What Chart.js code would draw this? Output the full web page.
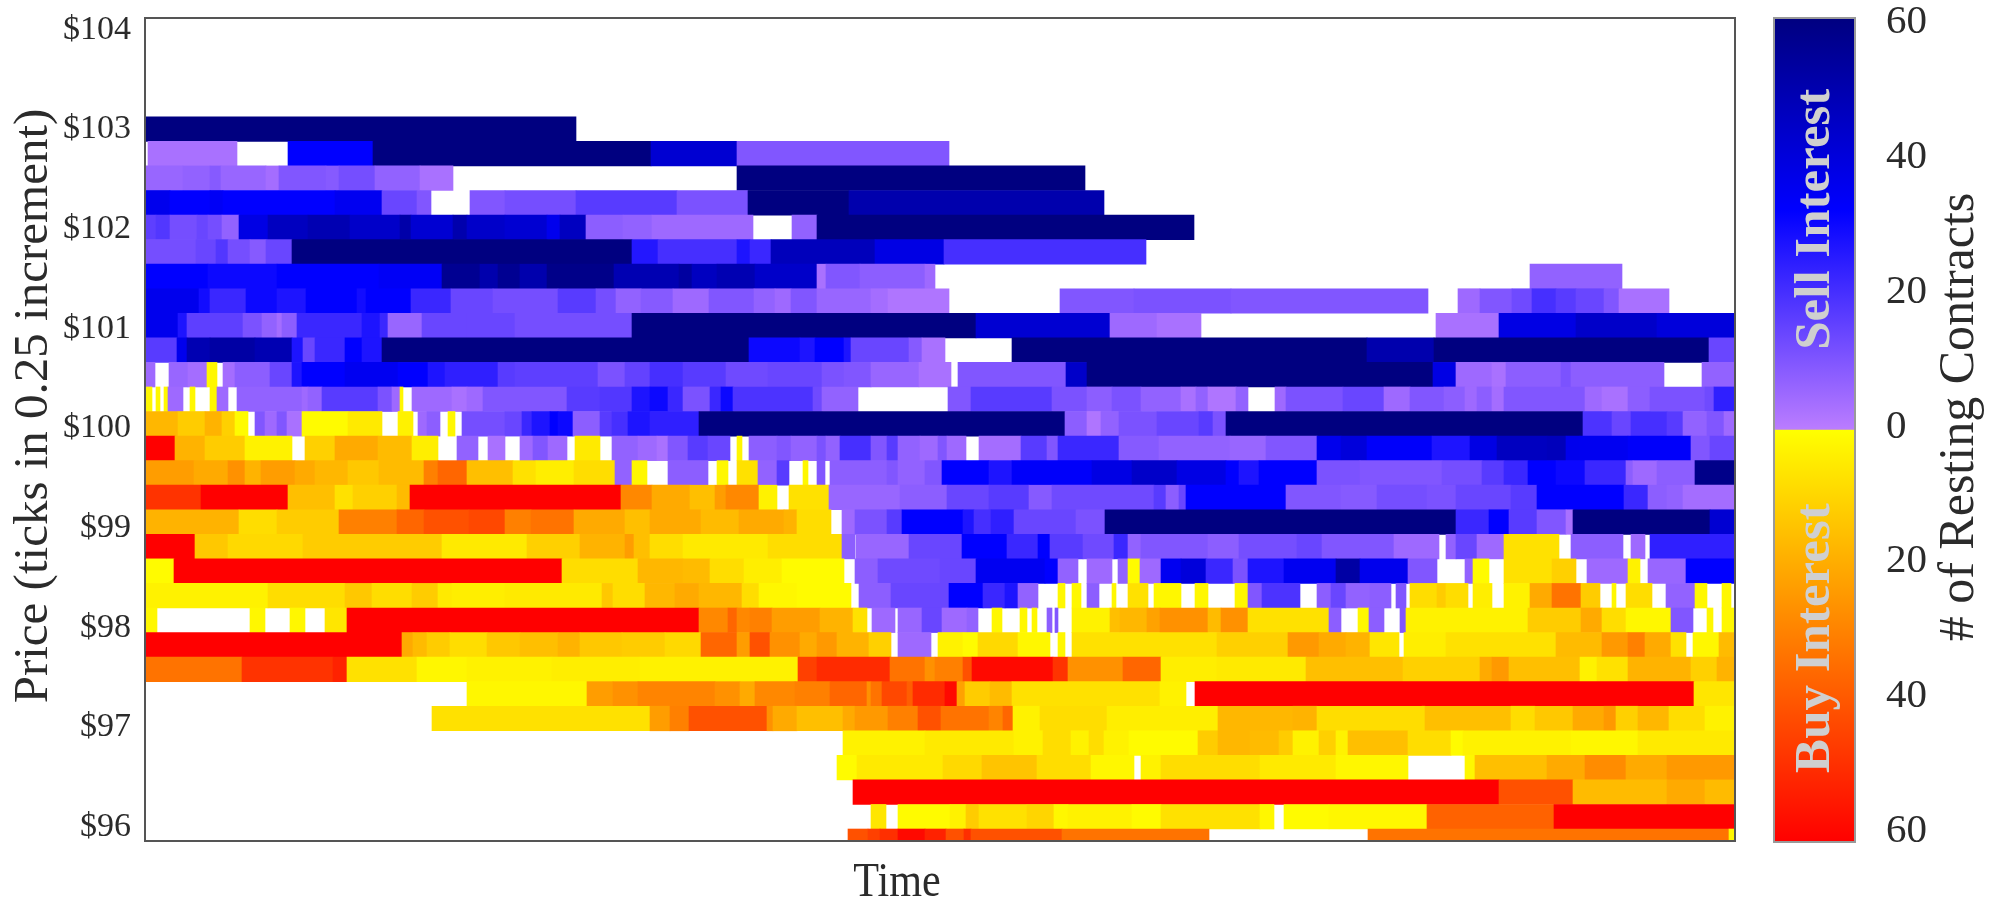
<!DOCTYPE html>
<html>
<head>
<meta charset="utf-8">
<style>
  html, body { margin: 0; padding: 0; background: #fff; width: 2001px; height: 903px; overflow: hidden; }
  canvas { position: absolute; top: 0; filter: blur(0.6px); }
  #book { left: 0; }
  #scale { left: 1760px; }
</style>
<script src="https://cdn.jsdelivr.net/npm/chart.js@4/dist/chart.umd.js"></script>
</head>
<body>
<canvas id="book" width="1760" height="903"></canvas>
<canvas id="scale" width="241" height="903"></canvas>
<script>
// resting contracts per price level: [time, contracts] runs, each lasts until the next time.
// positive = sell interest, negative = buy interest, 0 = nothing resting
var p10300 = [[0,60],[431,0]];
var p10275 = [[3,3],[92,0],[143,32],[228,60],[506,42],[592,10],[804,0]];
var p10250 = [[0,6],[38,7],[65,9],[76,6],[121,4],[134,10],[181,9],[194,12],[230,7],[275,3],[308,0],[592,60],[940,0]];
var p10225 = [[0,36],[25,32],[65,34],[78,32],[190,35],[237,14],[272,10],[286,0],[325,10],[360,12],[431,17],[532,11],[603,60],[704,50],[959,0]];
var p10200 = [[0,16],[11,18],[25,12],[52,14],[63,12],[77,7],[94,38],[123,46],[163,49],[205,44],[255,51],[266,42],[308,50],[322,44],[360,42],[402,36],[415,46],[441,8],[478,7],[507,5],[608,0],[647,7],[672,60],[1049,0]];
var p10175 = [[0,12],[51,14],[71,18],[83,12],[105,9],[121,14],[147,60],[487,26],[513,20],[592,27],[605,22],[626,47],[730,38],[799,20],[1001,0]];
var p10150 = [[0,32],[63,30],[132,32],[234,34],[297,56],[335,50],[353,56],[375,50],[402,58],[469,49],[534,53],[547,46],[572,49],[610,44],[672,3],[681,10],[715,8],[780,5],[790,0],[1385,7],[1477,0]];
var p10125 = [[0,36],[54,29],[65,22],[101,30],[132,27],[161,32],[212,29],[221,32],[266,22],[306,14],[348,12],[413,17],[451,12],[471,7],[496,9],[528,5],[564,10],[609,7],[630,5],[646,10],[672,6],[726,4],[743,2],[804,0],[915,10],[989,11],[1086,10],[1283,0],[1313,5],[1335,10],[1367,13],[1387,20],[1411,17],[1431,14],[1459,10],[1474,3],[1524,0]];
var p10100 = [[0,36],[33,27],[42,16],[98,11],[117,7],[132,4],[137,8],[152,22],[217,27],[235,22],[243,6],[277,14],[322,14],[370,12],[487,60],[831,42],[965,5],[1012,3],[1056,0],[1291,3],[1354,38],[1431,44],[1512,40],[1590,0]];
var p10075 = [[0,17],[32,36],[42,49],[65,52],[110,49],[147,27],[158,14],[170,22],[200,32],[217,27],[237,60],[604,30],[655,27],[670,32],[699,27],[706,14],[764,9],[777,3],[800,0],[867,60],[1222,50],[1289,60],[1564,14],[1590,0]];
var p10050 = [[0,5],[10,0],[24,6],[43,4],[62,-2],[72,0],[78,4],[90,8],[125,14],[147,27],[157,32],[200,35],[253,32],[283,27],[300,24],[353,17],[370,16],[453,11],[480,15],[505,20],[538,17],[581,13],[623,14],[677,11],[699,10],[726,6],[774,3],[806,0],[813,10],[921,44],[942,60],[1288,38],[1311,5],[1347,3],[1361,8],[1416,11],[1426,8],[1519,0],[1557,7],[1590,0]];
var p10025 = [[0,-2],[7,0],[11,-2],[15,0],[19,-2],[23,5],[38,0],[45,-2],[50,0],[65,-2],[72,5],[83,0],[92,7],[157,5],[163,7],[177,17],[233,11],[247,5],[255,-2],[258,0],[267,5],[307,3],[322,5],[338,10],[422,17],[455,18],[487,27],[505,30],[523,22],[538,11],[565,22],[576,30],[588,19],[668,13],[677,7],[713,0],[803,10],[826,17],[907,11],[942,8],[967,11],[996,7],[1036,3],[1051,7],[1063,2],[1091,7],[1103,0],[1130,5],[1141,11],[1198,14],[1239,5],[1265,10],[1299,8],[1320,5],[1332,8],[1347,4],[1359,10],[1440,5],[1457,3],[1483,8],[1505,11],[1560,13],[1569,24],[1590,0]];
var p10000 = [[0,-17],[33,-12],[60,-18],[77,-11],[90,-1],[103,0],[110,10],[120,5],[132,10],[142,3],[157,-1],[203,-5],[237,0],[253,-3],[268,0],[273,5],[282,8],[295,0],[303,-2],[310,0],[317,12],[360,14],[377,22],[387,27],[405,32],[413,30],[428,8],[455,17],[467,20],[483,27],[505,24],[554,60],[920,8],[942,2],[956,7],[974,11],[1012,14],[1054,17],[1068,11],[1081,60],[1438,19],[1467,14],[1486,20],[1522,17],[1538,7],[1562,10],[1579,5],[1590,0]];
var p9975 = [[0,-60],[30,-18],[60,-12],[100,-3],[147,0],[160,-11],[190,-20],[233,-16],[267,-4],[293,0],[312,7],[333,0],[343,3],[360,0],[375,5],[388,10],[403,5],[422,0],[430,-5],[455,0],[467,7],[493,5],[512,3],[523,10],[543,17],[563,14],[585,0],[592,-2],[597,0],[604,8],[632,10],[646,7],[672,11],[681,7],[695,20],[726,10],[742,17],[753,7],[775,5],[793,10],[802,5],[821,0],[834,4],[876,17],[902,10],[913,22],[974,9],[1014,7],[1085,6],[1121,10],[1172,36],[1196,40],[1222,33],[1287,27],[1325,38],[1352,46],[1402,47],[1421,36],[1435,35],[1483,33],[1546,10],[1565,14],[1590,0]];
var p9950 = [[0,-23],[49,-20],[83,-26],[100,-18],[116,-23],[150,-20],[170,-17],[203,-13],[234,-16],[279,-30],[293,-36],[322,-15],[368,-7],[391,-4],[429,-8],[470,7],[487,-2],[502,0],[523,8],[563,0],[572,-2],[583,0],[592,-7],[613,7],[632,17],[644,0],[658,-2],[663,0],[672,10],[680,0],[685,8],[742,10],[753,7],[780,10],[797,32],[844,27],[867,33],[947,38],[987,44],[1032,38],[1081,32],[1094,27],[1114,32],[1172,11],[1215,10],[1297,12],[1337,17],[1359,22],[1383,32],[1411,30],[1440,22],[1481,8],[1488,5],[1512,8],[1550,58],[1590,0]];
var p9925 = [[0,-48],[56,-60],[143,-15],[190,-7],[208,-11],[252,-16],[265,-60],[476,-28],[507,-20],[545,-15],[570,-23],[581,-28],[614,-3],[632,0],[644,-7],[684,6],[755,8],[802,14],[844,17],[884,9],[907,13],[1009,17],[1021,8],[1034,14],[1041,32],[1141,10],[1196,9],[1232,12],[1282,11],[1311,14],[1366,17],[1392,32],[1479,22],[1503,8],[1522,7],[1538,4],[1590,0]];
var p9900 = [[0,-18],[94,-8],[132,-12],[194,-30],[252,-36],[279,-41],[324,-43],[360,-30],[386,-33],[429,-20],[480,-15],[505,-20],[556,-16],[594,-20],[639,-18],[652,-8],[686,0],[697,5],[710,11],[742,17],[757,32],[818,27],[829,20],[846,24],[869,14],[931,11],[960,60],[1311,22],[1344,32],[1364,17],[1392,10],[1421,3],[1428,60],[1565,42],[1590,0]];
var p9875 = [[0,-60],[50,-13],[83,-9],[158,-12],[297,-5],[382,-11],[435,-18],[480,-23],[489,-15],[505,-8],[538,-5],[623,-8],[697,8],[710,0],[711,6],[764,14],[817,32],[862,22],[893,32],[905,17],[938,13],[969,22],[983,7],[996,10],[1063,8],[1094,12],[1152,14],[1177,10],[1249,5],[1294,0],[1301,7],[1311,14],[1332,5],[1359,-7],[1414,0],[1426,8],[1478,0],[1486,5],[1500,0],[1505,24],[1590,0]];
var p9850 = [[0,-1],[29,-60],[417,-8],[493,-17],[538,-16],[565,-8],[599,-4],[637,-1],[699,0],[710,8],[733,13],[795,14],[831,35],[900,32],[913,7],[933,0],[942,5],[967,0],[973,7],[983,-1],[995,5],[1016,35],[1036,40],[1061,22],[1088,11],[1103,27],[1139,35],[1191,52],[1215,36],[1263,10],[1292,0],[1320,7],[1328,-1],[1344,0],[1359,-7],[1407,-11],[1431,0],[1442,5],[1483,-3],[1495,0],[1503,6],[1541,32],[1590,0]];
var p9825 = [[0,-3],[123,-8],[200,-13],[227,-8],[267,-12],[293,-5],[307,-4],[360,-5],[457,-13],[468,-8],[500,-17],[530,-20],[554,-17],[597,-8],[614,-2],[652,-1],[706,0],[714,8],[746,14],[804,32],[838,22],[860,27],[873,7],[893,0],[913,-2],[920,0],[927,-2],[936,0],[942,8],[954,0],[967,-2],[971,0],[983,-7],[1003,0],[1009,-2],[1036,0],[1050,-2],[1063,0],[1090,-2],[1103,10],[1117,19],[1155,0],[1172,8],[1186,14],[1201,7],[1225,8],[1246,0],[1251,10],[1261,0],[1265,-8],[1292,-12],[1301,-8],[1323,0],[1328,-4],[1347,0],[1359,-3],[1385,-20],[1407,-33],[1436,-12],[1455,0],[1467,-2],[1471,0],[1481,-8],[1507,0],[1521,7],[1550,-2],[1562,0],[1577,-2],[1586,0],[1590,0]];
var p9800 = [[0,-2],[12,0],[105,-2],[120,0],[145,-2],[160,0],[180,-6],[202,-60],[554,-28],[583,-36],[592,-28],[605,-30],[627,-23],[675,-18],[708,-7],[722,0],[727,5],[750,0],[753,6],[777,14],[797,5],[822,7],[833,0],[847,-2],[857,0],[875,-2],[882,0],[887,-2],[892,0],[902,8],[907,0],[910,10],[913,0],[927,-3],[965,-15],[975,-17],[1002,-22],[1015,-26],[1063,-16],[1076,-26],[1103,-7],[1184,8],[1196,0],[1213,-2],[1224,8],[1239,0],[1255,10],[1261,-3],[1383,-12],[1436,-20],[1457,-8],[1481,-2],[1526,10],[1548,0],[1562,-2],[1568,0],[1577,-2],[1590,0]];
var p9775 = [[0,-60],[257,-20],[268,-16],[282,-12],[305,-8],[342,-13],[375,-15],[413,-18],[435,-13],[477,-12],[520,-9],[556,-36],[592,-23],[605,-41],[625,-26],[655,-20],[672,-24],[692,-18],[724,-11],[746,0],[753,5],[786,0],[793,-3],[818,-1],[833,-9],[873,-2],[905,0],[913,-2],[920,0],[927,-7],[1072,-11],[1143,-24],[1174,-20],[1201,-18],[1225,-6],[1254,0],[1259,-4],[1301,-7],[1411,-16],[1457,-24],[1483,-30],[1500,-20],[1526,-7],[1541,0],[1548,-2],[1574,-16],[1590,0]];
var p9750 = [[0,-33],[97,-48],[188,-52],[202,-7],[272,-2],[322,-3],[407,-4],[495,-3],[653,-45],[672,-50],[745,-33],[780,-26],[790,-30],[818,-41],[827,-58],[908,-48],[923,-26],[978,-36],[1016,-4],[1072,-5],[1161,-15],[1258,-11],[1335,-20],[1347,-24],[1364,-15],[1435,-3],[1452,-7],[1483,-18],[1546,-11],[1572,-18],[1590,0]];
var p9725 = [[322,-2],[442,-23],[468,-26],[493,-29],[570,-26],[595,-20],[610,-28],[650,-30],[685,-36],[722,-26],[726,-33],[737,-43],[762,-38],[768,-50],[800,-58],[812,-22],[820,-12],[845,-16],[867,-7],[1015,-3],[1041,0],[1050,-60],[1549,-6],[1590,0]];
var p9700 = [[287,-7],[505,-23],[525,-30],[544,-41],[622,-26],[628,-20],[652,-15],[698,-20],[710,-24],[743,-30],[773,-41],[796,-33],[844,-29],[858,-36],[868,-3],[895,-8],[962,-4],[1073,-17],[1148,-18],[1172,-8],[1277,-8],[1280,-15],[1366,-8],[1390,-13],[1428,-20],[1459,-24],[1471,-11],[1493,-17],[1524,-8],[1560,-3],[1590,0]];
var p9675 = [[698,-3],[780,-5],[869,-3],[898,-8],[926,-3],[944,-8],[959,-3],[984,-1],[1053,-12],[1073,-17],[1105,-16],[1134,-12],[1148,-3],[1174,-11],[1191,-3],[1203,-15],[1263,-8],[1306,-1],[1318,-3],[1426,-2],[1493,-5],[1590,0]];
var p9650 = [[692,-1],[712,-5],[798,-9],[837,-14],[892,-8],[946,-2],[989,0],[996,-3],[1016,-8],[1115,-5],[1191,-2],[1263,0],[1320,-2],[1330,-15],[1402,-20],[1440,-27],[1481,-20],[1522,-24],[1590,0]];
var p9625 = [[708,-60],[1354,-41],[1428,-16],[1522,-20],[1560,-16],[1590,0]];
var p9600 = [[726,-6],[741,0],[753,-1],[805,-3],[821,-12],[834,-7],[882,-10],[909,-2],[923,-3],[987,-1],[1016,-7],[1115,-2],[1129,0],[1139,-1],[1184,-2],[1282,-37],[1409,-60],[1590,0]];
var p9575 = [[703,-41],[723,-45],[735,-49],[753,-58],[780,-52],[801,-41],[819,-49],[826,-41],[917,-33],[1064,0],[1223,-33],[1584,-2],[1590,0]];

var priceLevels = [103, 102.75, 102.5, 102.25, 102, 101.75, 101.5, 101.25, 101, 100.75, 100.5, 100.25, 100, 99.75, 99.5, 99.25, 99, 98.75, 98.5, 98.25, 98, 97.75, 97.5, 97.25, 97, 96.75, 96.5, 96.25, 96, 95.75];
var levelRuns = [p10300, p10275, p10250, p10225, p10200, p10175, p10150, p10125, p10100, p10075, p10050, p10025, p10000, p9975, p9950, p9925, p9900, p9875, p9850, p9825, p9800, p9775, p9750, p9725, p9700, p9675, p9650, p9625, p9600, p9575];

var priceTicks = [96, 97, 98, 99, 100, 101, 102, 103, 104];
var amountTicks = [-60, -40, -20, 0, 20, 40, 60];
var sellStops = [[0, [187, 125, 255]], [32, [0, 0, 255]], [60, [0, 0, 128]]];
var buyStops = [[0, [255, 255, 0]], [60, [255, 0, 0]]];
var scaleRanges = [[-60, 0], [0, 60]];

var serif = '"Liberation Serif", "Times New Roman", serif';
var textColor = '#2b2b2b';

function stopColor(stops, v) {
    for (var i = 1; i < stops.length; i++) {
        if (v <= stops[i][0]) {
            var f = (v - stops[i - 1][0]) / (stops[i][0] - stops[i - 1][0]);
            var a = stops[i - 1][1], b = stops[i][1];
            return 'rgb(' + Math.round(a[0] + (b[0] - a[0]) * f) + ',' + Math.round(a[1] + (b[1] - a[1]) * f) + ',' + Math.round(a[2] + (b[2] - a[2]) * f) + ')';
        }
    }
}

function valueColor(v) {
    return v > 0 ? stopColor(sellStops, v) : stopColor(buyStops, -v);
}

// turn the runs into floating bars
var bars = [];
levelRuns.forEach(function (runs, k) {
    for (var i = 0; i < runs.length - 1; i++) {
        if (runs[i][1] !== 0) {
            bars.push({ x: [runs[i][0], runs[i + 1][0]], y: priceLevels[k], v: runs[i][1] });
        }
    }
});

// tick labels must not push the plot area in
function noOverhang(s) {
    s.paddingTop = 0;
    s.paddingBottom = 0;
    s.paddingLeft = 0;
    s.paddingRight = 0;
}

function fixedTicks(list) {
    return function (s) {
        s.ticks = list.map(function (v) { return { value: v }; });
    };
}

function verticalText(ctx, text, px, py, font, color) {
    ctx.save();
    ctx.translate(px, py);
    ctx.rotate(-Math.PI / 2);
    ctx.textAlign = 'center';
    ctx.textBaseline = 'alphabetic';
    ctx.font = font;
    ctx.fillStyle = color;
    ctx.fillText(text, 0, 0);
    ctx.restore();
}

var frame = {
    id: 'frame',
    afterDatasetsDraw: function (chart) {
        var a = chart.chartArea, ctx = chart.ctx;
        ctx.save();
        ctx.strokeStyle = chart.options.frameColor;
        ctx.lineWidth = 2;
        ctx.strokeRect(a.left, a.top, a.right - a.left, a.bottom - a.top);
        ctx.restore();
    }
};

// the reference prints both axis titles off the plot centre, "Time" also a bit narrow
var bookTitles = {
    id: 'bookTitles',
    afterDraw: function (chart) {
        var ctx = chart.ctx;
        ctx.save();
        ctx.translate(chart.scales.x.getPixelForValue(752), 896);
        ctx.scale(0.86, 1);
        ctx.textAlign = 'center';
        ctx.textBaseline = 'alphabetic';
        ctx.font = '49px ' + serif;
        ctx.fillStyle = textColor;
        ctx.fillText('Time', 0, 0);
        ctx.restore();
        verticalText(ctx, 'Price (ticks in 0.25 increment)', 47, 406, '49px ' + serif, textColor);
    }
};

new Chart(document.getElementById('book').getContext('2d'), {
    type: 'bar',
    data: {
        datasets: [{
            data: bars,
            backgroundColor: function (c) { return c.raw ? valueColor(c.raw.v) : 'transparent'; },
            borderWidth: 0,
            barPercentage: 1,
            categoryPercentage: 1,
            yAxisID: 'y'
        }]
    },
    options: {
        indexAxis: 'y',
        responsive: false,
        animation: false,
        frameColor: '#555',
        layout: { padding: { top: 18, right: 25 } },
        plugins: { legend: { display: false }, tooltip: { enabled: false } },
        scales: {
            x: {
                type: 'linear', min: 0, max: 1590, bounds: 'data',
                grid: { display: false },
                border: { display: false },
                ticks: { display: false },
                afterFit: function (s) { s.height = 62; noOverhang(s); }
            },
            // rows sit on this one, hidden
            y: {
                type: 'linear', min: 95.753, max: 104.131, bounds: 'data', offset: false, display: false,
                ticks: { stepSize: 1, includeBounds: false }
            },
            // the printed labels are spaced a little wider than the rows
            prices: {
                type: 'linear', axis: 'y', position: 'left', min: 95.859, max: 104.117, bounds: 'data', offset: false,
                grid: { display: false },
                border: { display: false },
                afterBuildTicks: fixedTicks(priceTicks),
                ticks: {
                    autoSkip: false,
                    padding: 6,
                    color: textColor,
                    font: { family: serif, size: 34 },
                    callback: function (v) { return '$' + v; }
                },
                afterFit: function (s) { s.width = 145; noOverhang(s); }
            }
        }
    },
    plugins: [frame, bookTitles]
});

var sideLabels = {
    id: 'sideLabels',
    afterDraw: function (chart) {
        var ctx = chart.ctx, a = chart.chartArea, y = chart.scales.y, mid = (a.left + a.right) / 2;
        verticalText(ctx, 'Sell Interest', mid + 14, y.getPixelForValue(30.7), 'bold 51px ' + serif, '#cfcfcf');
        verticalText(ctx, 'Buy Interest', mid + 14, y.getPixelForValue(-30.3), 'bold 51px ' + serif, '#cfcfcf');
        verticalText(ctx, '# of Resting Contracts', 213, 417, '50px ' + serif, textColor);
    }
};

function rangeGradient(stops) {
    return function (c) {
        var y = c.chart.scales.y;
        if (!y || !c.chart.chartArea) return 'transparent';
        var range = c.dataset.data[0];
        var sign = range[1] > 0 ? 1 : -1;
        var g = c.chart.ctx.createLinearGradient(0, y.getPixelForValue(0), 0, y.getPixelForValue(sign * 60));
        stops.forEach(function (s) { g.addColorStop(s[0] / 60, stopColor(stops, s[0])); });
        return g;
    };
}

new Chart(document.getElementById('scale').getContext('2d'), {
    type: 'bar',
    data: {
        labels: ['contracts'],
        datasets: [
            { data: [scaleRanges[0]], backgroundColor: rangeGradient(buyStops), borderWidth: 0, barPercentage: 1, categoryPercentage: 1, grouped: false },
            { data: [scaleRanges[1]], backgroundColor: rangeGradient(sellStops), borderWidth: 0, barPercentage: 1, categoryPercentage: 1, grouped: false }
        ]
    },
    options: {
        responsive: false,
        animation: false,
        frameColor: '#999',
        layout: { padding: { top: 18, left: 14 } },
        plugins: { legend: { display: false }, tooltip: { enabled: false } },
        scales: {
            x: {
                display: true,
                grid: { display: false },
                border: { display: false },
                ticks: { display: false },
                afterFit: function (s) { s.height = 61; noOverhang(s); }
            },
            y: { type: 'linear', min: -60, max: 60, bounds: 'data', display: false },
            amounts: {
                type: 'linear', axis: 'y', position: 'right', min: -61.6, max: 60.7, bounds: 'data',
                grid: { display: false },
                border: { display: false },
                afterBuildTicks: fixedTicks(amountTicks),
                ticks: {
                    autoSkip: false,
                    padding: 23,
                    color: textColor,
                    font: { family: serif, size: 41 },
                    callback: function (v) { return String(Math.abs(v)); }
                },
                afterFit: function (s) { s.width = 146; noOverhang(s); }
            }
        }
    },
    plugins: [frame, sideLabels]
});
</script>
</body>
</html>
